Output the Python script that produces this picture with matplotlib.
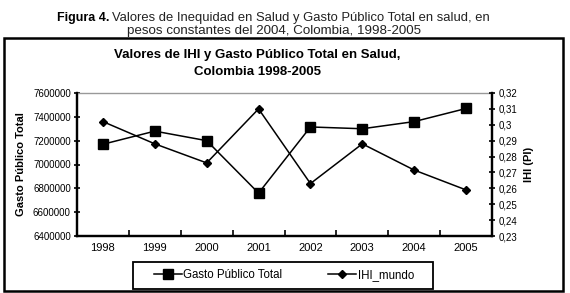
import matplotlib
matplotlib.use("Agg")
import matplotlib.pyplot as plt
from matplotlib.patches import Rectangle

years = ["1998", "1999", "2000", "2001", "2002", "2003", "2004", "2005"]
gasto = [7170000, 7280000, 7200000, 6760000, 7315000, 7300000, 7360000, 7470000]
ihi = [0.302, 0.288, 0.276, 0.310, 0.263, 0.288, 0.2715, 0.259]
left_ticks = [6400000, 6600000, 6800000, 7000000, 7200000, 7400000, 7600000]
right_ticks = [0.23, 0.24, 0.25, 0.26, 0.27, 0.28, 0.29, 0.30, 0.31, 0.32]
right_labels = ["0,23", "0,24", "0,25", "0,26", "0,27", "0,28", "0,29", "0,3", "0,31", "0,32"]

plt.rcParams["font.family"] = ["Liberation Sans", "DejaVu Sans"]

W, H = 570, 293
fig = plt.figure(figsize=(W / 100, H / 100), dpi=100)

def fx(px):
    return px / W

def fy(py):
    return 1 - py / H

# outer frame
fig.patches.append(Rectangle((fx(4), fy(291)), fx(563) - fx(4), fy(38) - fy(291),
                             transform=fig.transFigure, fill=False, ec="black", lw=1.8))

# caption above frame
fig.text(fx(109), fy(18), "Figura 4.", ha="right", va="center", fontsize=9, fontweight="bold")
fig.text(fx(112), fy(18), "Valores de Inequidad en Salud y Gasto Público Total en salud, en",
         ha="left", va="center", fontsize=9.4, color="#222222")
fig.text(fx(274), fy(31), "pesos constantes del 2004, Colombia, 1998-2005",
         ha="center", va="center", fontsize=9.6, color="#222222")

# chart title
fig.text(fx(257), fy(55), "Valores de IHI y Gasto Público Total en Salud,", ha="center",
         va="center", fontsize=9.5, fontweight="bold")
fig.text(fx(257), fy(72), "Colombia 1998-2005", ha="center", va="center",
         fontsize=9.5, fontweight="bold")

ax = fig.add_axes([fx(77), fy(236), fx(492) - fx(77), fy(93) - fy(236)])
x = list(range(len(years)))
l1, = ax.plot(x, gasto, color="black", lw=1.1, marker="s", ms=7, label="Gasto Público Total")
ax.set_xlim(-0.5, len(years) - 0.5)
ax.set_ylim(6400000, 7600000)
ax.set_yticks(left_ticks)
ax.set_yticklabels([str(v) for v in left_ticks], fontsize=7)
ax.set_xticks([i + 0.5 for i in range(len(years) - 1)])
ax.set_xticklabels([])
ax.set_xticks(x, minor=True)
ax.set_xticklabels(years, minor=True, fontsize=8)
ax.tick_params(axis="x", which="major", direction="in", length=4, width=1.2)
ax.tick_params(axis="x", which="minor", length=0, pad=5)
ax.tick_params(axis="y", direction="inout", length=5, width=1.2, pad=2)
ax.set_ylabel("Gasto Público Total", fontsize=8, fontweight="bold", labelpad=5)
for s in ["left", "bottom", "right"]:
    ax.spines[s].set_linewidth(1.6)
ax.spines["top"].set_color("#999999")
ax.spines["top"].set_linewidth(1.0)

ax2 = ax.twinx()
l2, = ax2.plot(x, ihi, color="black", lw=1.1, marker="D", ms=4.5, label="IHI_mundo")
ax2.set_ylim(0.23, 0.32)
ax2.set_yticks(right_ticks)
ax2.set_yticklabels(right_labels, fontsize=7)
ax2.tick_params(axis="y", direction="inout", length=5, width=1.2, pad=2)
ax2.set_ylabel("IHI (PI)", fontsize=8, fontweight="bold", rotation=90, labelpad=5)
for s in ["left", "bottom", "right"]:
    ax2.spines[s].set_linewidth(1.6)
ax2.spines["top"].set_visible(False)

# legend box drawn separately so its padding can match
fig.patches.append(Rectangle((fx(133), fy(289)), fx(433) - fx(133), fy(262) - fy(289),
                             transform=fig.transFigure, fill=False, ec="black", lw=1.3))
leg = fig.legend([l1, l2], ["Gasto Público Total", "IHI_mundo"], ncol=2,
                 loc="center", bbox_to_anchor=(fx(284), fy(275)), fontsize=8.3,
                 frameon=False, handlelength=2.4, columnspacing=4,
                 borderpad=0.2, handletextpad=0.15)

fig.savefig("out.png", dpi=100)
